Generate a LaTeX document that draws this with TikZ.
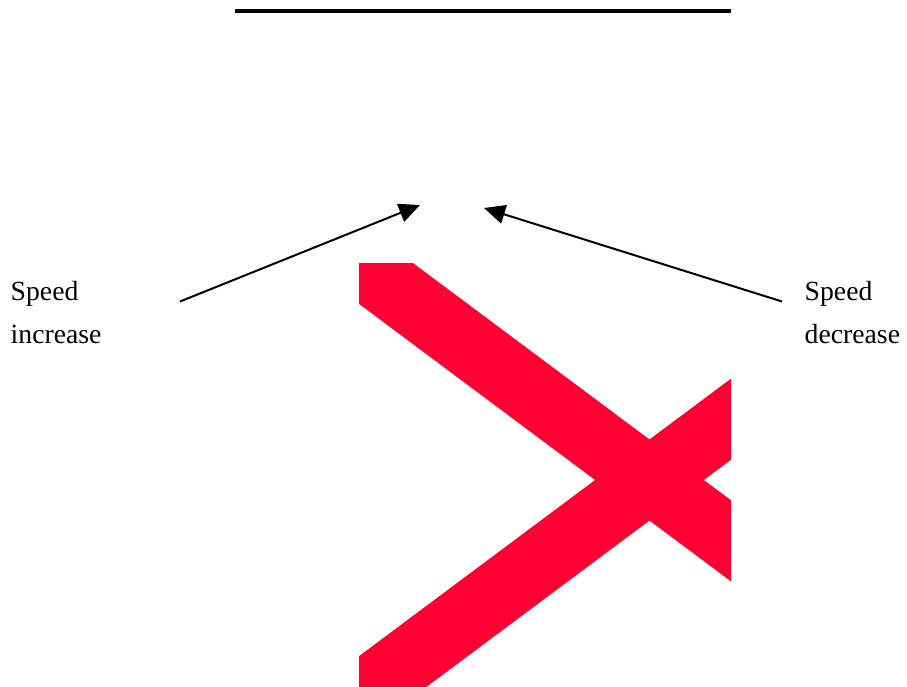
\documentclass[tikz,border=0pt]{standalone}
\usepackage{fontspec}
\setmainfont{Liberation Serif}
\usepackage{tikz}
\usetikzlibrary{arrows.meta}
\usetikzlibrary{calc}
\usetikzlibrary{positioning}
\definecolor{bandred}{HTML}{FF0033}

\begin{document}
\begin{tikzpicture}[x=1pt,y=-1pt,
    label/.style={inner sep=0pt, align=left, anchor=base west,
      font={\fontsize{27.7}{43.3}\selectfont}},
    pointer/.style={line width=2pt, -{Triangle[length=21pt,width=19pt]}},
    band/.style={line width=65pt, bandred}]
      \useasboundingbox (0,0) rectangle (907,686);

      % top line
      \draw[line width=3.7pt] (235,10.8) -- (731,10.8);

      % crossing bands
      \begin{scope}
        \clip (359,263) rectangle (731,686);
        \draw[band] (300,219.3) -- (800,592.3);
        \draw[band] (300,740.7) -- (800,367.7);
      \end{scope}

      % labels
      \node[label] (inc) at (10.5,343.3) {Speed\\increase};
      \node[label] (dec) at (804.5,343.3) {Speed\\decrease};

      % arrows
      \coordinate (incTail) at (180,301.5); \coordinate (incTip) at (420,205);
      \coordinate (decTail) at (782,301.5); \coordinate (decTip) at (484,208);
      \draw[pointer] (incTail) -- (incTip);
      \draw[pointer] (decTail) -- (decTip);
    \end{tikzpicture}
\end{document}
